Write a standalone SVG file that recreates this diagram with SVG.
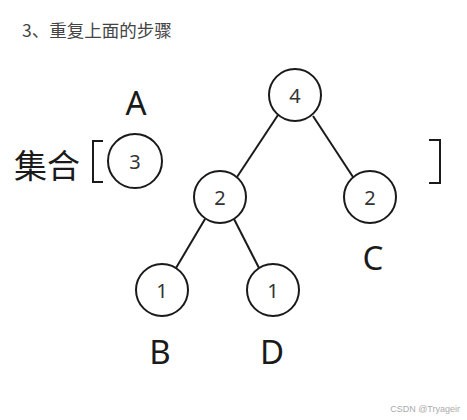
<svg xmlns="http://www.w3.org/2000/svg" width="467" height="420" viewBox="0 0 467 420">
<style>
.n circle{fill:#fff;stroke:#1a1a1a;stroke-width:2}
.n text{font-family:"Noto Sans","Noto Sans CJK SC",sans-serif;font-size:20px;fill:#333;text-anchor:middle;dominant-baseline:central}
.lbl{font-family:"Noto Sans","Noto Sans CJK SC",sans-serif;font-size:33px;fill:#1a1a1a;text-anchor:middle}
#edges line{stroke:#1a1a1a;stroke-width:2}
.br{fill:none;stroke:#1a1a1a;stroke-width:2}
</style>
<rect width="467" height="420" fill="#fff"/>
<text x="22" y="37" font-family="'Noto Sans CJK SC','Noto Sans',sans-serif" font-size="17.5" fill="#444">3、重复上面的步骤</text>
<g id="edges">
<line x1="278" y1="115" x2="237" y2="177"/>
<line x1="313" y1="116" x2="353" y2="177"/>
<line x1="205" y1="219" x2="176" y2="268"/>
<line x1="234" y1="219" x2="259" y2="268"/>
</g>
<g id="n4" class="n"><circle cx="295" cy="95" r="26"/><text x="295" y="95">4</text></g>
<g id="n2a" class="n"><circle cx="220" cy="197" r="26"/><text x="220" y="197">2</text></g>
<g id="n2b" class="n"><circle cx="370" cy="197" r="26"/><text x="370" y="197">2</text></g>
<g id="n1a" class="n"><circle cx="162" cy="290" r="26"/><text x="162" y="290">1</text></g>
<g id="n1b" class="n"><circle cx="273" cy="290" r="26"/><text x="273" y="290">1</text></g>
<g id="n3" class="n"><circle cx="135" cy="161" r="27"/><text x="135" y="161">3</text></g>
<text class="lbl" x="136" y="115">A</text>
<text class="lbl" x="160" y="364">B</text>
<text class="lbl" x="373" y="270">C</text>
<text class="lbl" x="272" y="364">D</text>
<text x="14" y="178" font-family="'Noto Sans CJK SC',sans-serif" font-size="33" fill="#1a1a1a">集合</text>
<path class="br" d="M103 141 H93 V182 H103"/>
<path class="br" d="M429 140 H440 V183 H429"/>
<text x="460" y="412" font-family="'Liberation Sans',sans-serif" font-size="9" fill="#aaa" text-anchor="end">CSDN @Tryageir</text>
</svg>
